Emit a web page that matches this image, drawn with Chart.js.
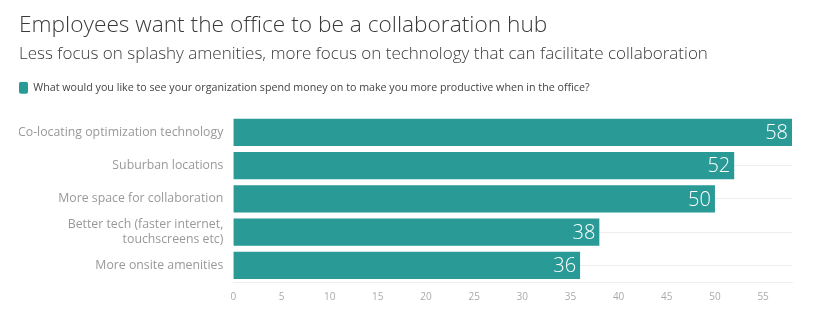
<!DOCTYPE html>
<html>
<head>
<meta charset="utf-8">
<script src="https://cdn.jsdelivr.net/npm/chart.js@4/dist/chart.umd.min.js"></script>
<style>
  html, body { margin: 0; padding: 0; background: #fff; }
  #wrap { width: 828px; height: 326px; }
</style>
</head>
<body>
<div id="wrap"><canvas id="chart" width="828" height="326"></canvas></div>
<script>
const categories = [
  "Co-locating optimization technology",
  "Suburban locations",
  "More space for collaboration",
  ["Better tech (faster internet,", "touchscreens etc)"],
  "More onsite amenities"
];
const seriesName = "What would you like to see your organization spend money on to make you more productive when in the office?";
const values = [58, 52, 50, 38, 36];
const xTicks = [0, 5, 10, 15, 20, 25, 30, 35, 40, 45, 50, 55];

const teal = "#299a96";
const FONT = "'Open Sans', sans-serif";

// valeurs dans la barre, à droite
const barLabels = {
  id: "barLabels",
  afterDatasetsDraw(chart) {
    const ctx = chart.ctx;
    const meta = chart.getDatasetMeta(0);
    ctx.save();
    ctx.fillStyle = "#fff";
    ctx.font = "300 20px " + FONT;
    ctx.textAlign = "right";
    ctx.textBaseline = "middle";
    meta.data.forEach((bar, i) => {
      ctx.fillText(values[i], bar.x - 4, bar.y + 1);
    });
    ctx.restore();
  }
};

// plus d'espace sous la légende
const legendGap = {
  id: "legendGap",
  afterInit(chart) {
    const lg = chart.legend;
    const fit = lg.fit.bind(lg);
    lg.fit = function () { fit(); this.height += 12; };
  }
};

new Chart(document.getElementById("chart"), {
  type: "bar",
  data: {
    labels: categories,
    datasets: [{
      label: seriesName,
      data: values,
      backgroundColor: teal,
      borderWidth: 0,
      barPercentage: 0.82,
      categoryPercentage: 1
    }]
  },
  options: {
    indexAxis: "y",
    responsive: false,
    animation: false,
    layout: { padding: { left: 19, right: 36, top: 8, bottom: 22 } },
    plugins: {
      title: {
        display: true,
        text: "Employees want the office to be a collaboration hub",
        align: "start",
        color: "#3a3a3a",
        font: { family: FONT, size: 22.7, weight: "300" },
        padding: { top: 4, bottom: 4 }
      },
      subtitle: {
        display: true,
        text: "Less focus on splashy amenities, more focus on technology that can facilitate collaboration",
        align: "start",
        color: "#3a3a3a",
        font: { family: FONT, size: 17, weight: "300" },
        padding: { top: 1, bottom: 17 }
      },
      legend: {
        display: true,
        align: "start",
        labels: {
          color: "#444",
          font: { family: FONT, size: 10.7 },
          boxWidth: 9,
          boxHeight: 12,
          useBorderRadius: true,
          borderRadius: 2,
          padding: 0
        }
      },
      tooltip: { enabled: false }
    },
    scales: {
      x: {
        min: 0,
        max: 58,
        afterBuildTicks(scale) {
          scale.ticks = xTicks.map(v => ({ value: v }));
        },
        grid: { display: false },
        border: { display: true, color: "#eeeeee" },
        ticks: { color: "#aaa", font: { family: FONT, size: 10 }, padding: 1 }
      },
      y: {
        afterFit(scale) { scale.width -= 11; },
        grid: { display: true, offset: false, color: "#eeeeee", drawTicks: false },
        border: { display: false },
        ticks: { color: "#999", font: { family: FONT, size: 12.3 }, padding: 10 }
      }
    }
  },
  plugins: [barLabels, legendGap]
});
</script>
</body>
</html>
